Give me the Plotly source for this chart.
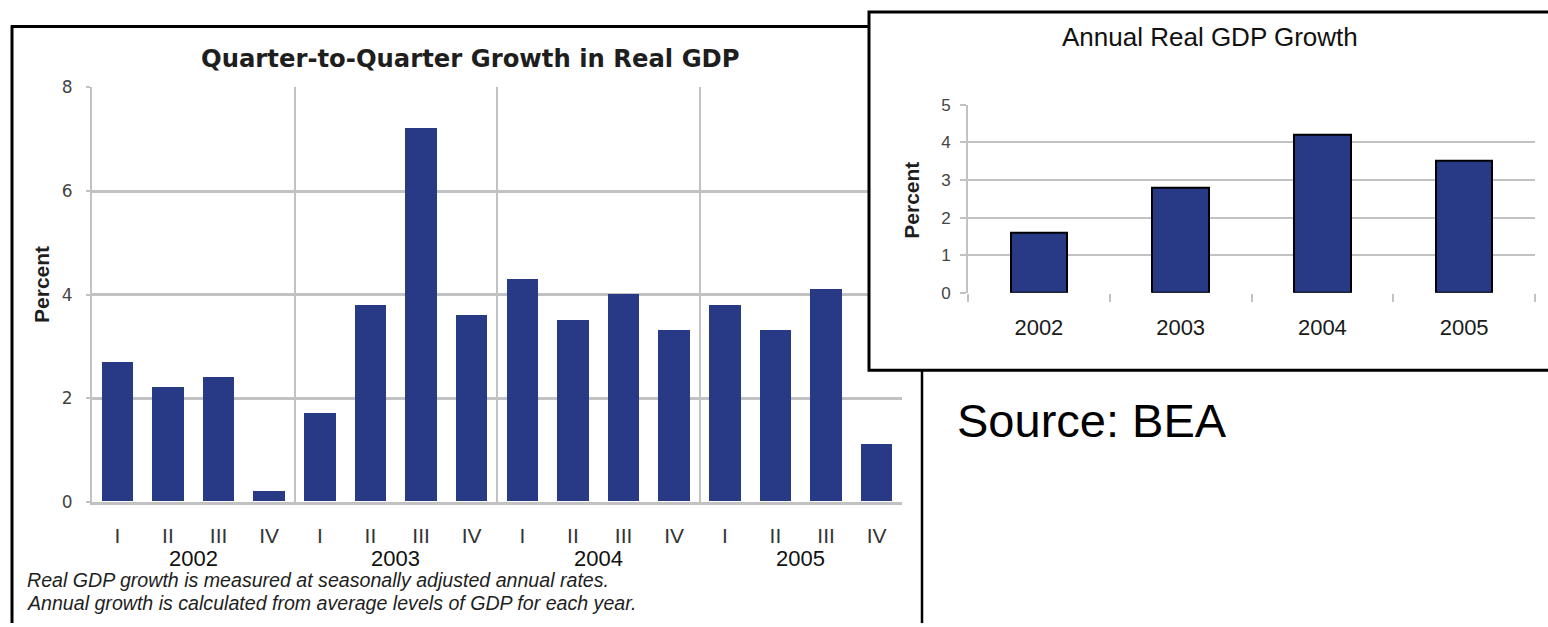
import plotly.graph_objects as go

# ---- data -------------------------------------------------------------
years = ["2002", "2003", "2004", "2005"]
quarters = ["I", "II", "III", "IV"]
quarterly_growth = [2.7, 2.2, 2.4, 0.2,
                    1.7, 3.8, 7.2, 3.6,
                    4.3, 3.5, 4.0, 3.3,
                    3.8, 3.3, 4.1, 1.1]
annual_growth = [1.6, 2.8, 4.2, 3.5]

title_quarterly = "Quarter-to-Quarter Growth in Real GDP"
title_annual = "Annual Real GDP Growth"
axis_label = "Percent"
footnotes = ["Real GDP growth is measured at seasonally adjusted annual rates.",
             "Annual growth is calculated from average levels of GDP for each year."]
source_note = "Source: BEA"

# ---- styling ----------------------------------------------------------
W, H = 1548, 627
BAR = "#283a85"
GRID = "#c2c2c2"
FRAME = "#000000"
ARIAL = "Liberation Sans, Arial, sans-serif"
TAHOMA = "DejaVu Sans, Verdana, sans-serif"


def fx(p):
    """pixel column -> paper fraction"""
    return p / W


def fy(p):
    """pixel row -> paper fraction (paper y grows upward)"""
    return 1 - p / H


# panel boxes in pixels
Q_X, Q_Y = (92, 902), (80, 508)          # quarterly plot area
A_X, A_Y = (968, 1535), (98, 292)        # annual plot area
INSET = (869, 2, 1560, 372)              # inset frame (x0, y0, x1, y1)
Q_TOP = 17                               # top edge of the quarterly frame

q_cats = [f"{y} {q}" for y in years for q in quarters]
q_text = [q for _ in years for q in quarters]
n_q = len(q_cats)

fig = go.Figure()

fig.add_trace(go.Bar(
    x=q_cats, y=quarterly_growth, width=0.62,
    marker=dict(color=BAR, line=dict(width=0)),
    xaxis="x", yaxis="y", hoverinfo="x+y",
))
fig.add_trace(go.Bar(
    x=years, y=annual_growth, width=0.4,
    marker=dict(color=BAR, line=dict(color="#000000", width=2)),
    xaxis="x2", yaxis="y2", hoverinfo="x+y",
))

# year separators sit on quarter boundaries of a linear overlay axis
year_bounds = [len(quarters) * k - 0.5 for k in range(1, len(years))]
year_centers = [len(quarters) * k + (len(quarters) - 1) / 2 for k in range(len(years))]

fig.update_layout(
    width=W, height=H, autosize=False,
    margin=dict(l=0, r=0, t=0, b=0, pad=0),
    paper_bgcolor="white", plot_bgcolor="white",
    showlegend=False, bargap=0,
    xaxis=dict(
        domain=[fx(Q_X[0]), fx(Q_X[1])], anchor="y",
        type="category", range=[-0.5, n_q - 0.5],
        tickvals=q_cats, ticktext=q_text,
        showgrid=False, zeroline=False,
        showline=True, linecolor=GRID, linewidth=3,
        ticks="", ticklabelstandoff=13,
        tickfont=dict(family=ARIAL, size=21, color="#333333"),
    ),
    xaxis3=dict(
        overlaying="x", anchor="y",
        range=[-0.5, n_q - 0.5],
        tickvals=year_bounds,
        showgrid=True, gridcolor=GRID, gridwidth=2,
        showticklabels=False, ticks="", zeroline=False, showline=False,
    ),
    yaxis=dict(
        domain=[fy(Q_Y[1]), fy(Q_Y[0])], anchor="x",
        range=[0, 8], dtick=2,
        showgrid=True, gridcolor=GRID, gridwidth=2.5,
        zeroline=False,
        showline=True, linecolor=GRID, linewidth=2,
        ticks="outside", ticklen=4, tickwidth=2, tickcolor=GRID,
        ticklabelstandoff=10,
        tickfont=dict(family=TAHOMA, size=17, color="#444444"),
    ),
    xaxis2=dict(
        domain=[fx(A_X[0]), fx(A_X[1])], anchor="y2",
        type="category", range=[-0.5, len(years) - 0.5],
        tickson="boundaries", ticks="outside", ticklen=8,
        tickwidth=2, tickcolor=GRID,
        showgrid=False, zeroline=False, showline=False,
        ticklabelstandoff=19,
        tickfont=dict(family=ARIAL, size=22, color="#1a1a1a"),
    ),
    yaxis2=dict(
        domain=[fy(A_Y[1]), fy(A_Y[0])], anchor="x2",
        range=[0, 5], dtick=1,
        showgrid=True, gridcolor=GRID, gridwidth=2,
        zeroline=True, zerolinecolor="white", zerolinewidth=2,
        showline=True, linecolor=GRID, linewidth=2,
        ticks="outside", ticklen=6, tickwidth=2, tickcolor=GRID,
        ticklabelstandoff=6,
        tickfont=dict(family=ARIAL, size=17, color="#444444"),
    ),
)

# white patch hiding the quarterly gridlines behind the inset
q_step = (Q_X[1] - Q_X[0]) / n_q
q_unit = (Q_Y[1] - Q_Y[0]) / 8
cover_x0 = (INSET[0] - Q_X[0]) / q_step - 0.5
cover_y0 = (Q_Y[1] - INSET[3]) / q_unit

shapes = [
    dict(type="rect", xref="x", yref="y", layer="between",
         x0=cover_x0, x1=n_q + 1, y0=cover_y0, y1=10,
         fillcolor="white", line=dict(width=0)),
    # quarterly frame
    dict(type="line", xref="paper", yref="paper", layer="above",
         x0=fx(12), x1=fx(12), y0=-0.01, y1=fy(Q_TOP - 1),
         line=dict(color=FRAME, width=3)),
    dict(type="line", xref="paper", yref="paper", layer="above",
         x0=fx(11), x1=fx(INSET[0]), y0=fy(Q_TOP), y1=fy(Q_TOP),
         line=dict(color=FRAME, width=3)),
    dict(type="line", xref="paper", yref="paper", layer="above",
         x0=fx(922), x1=fx(922), y0=-0.01, y1=fy(INSET[3]),
         line=dict(color=FRAME, width=2.5)),
    # inset frame
    dict(type="rect", xref="paper", yref="paper", layer="above",
         x0=fx(INSET[0]), x1=fx(INSET[2]), y0=fy(INSET[3]), y1=fy(INSET[1]),
         fillcolor="rgba(0,0,0,0)", line=dict(color=FRAME, width=3)),
]


def note(text, x, y, size, family=ARIAL, color="#1e1e1e", **kw):
    d = dict(text=text, xref="paper", yref="paper", x=fx(x), y=fy(y),
             xanchor="center", yanchor="middle", showarrow=False,
             font=dict(family=family, size=size, color=color))
    d.update(kw)
    return d


annotations = [
    note(f"<b>{title_quarterly}</b>", 470, 50, 24.3, family=TAHOMA),
    note(f"<b>{axis_label}</b>", 42, 284, 21, textangle=-90),
    note(title_annual, 1210, 28, 26, color="#111111"),
    note(f"<b>{axis_label}</b>", 912, 197, 21, textangle=-90),
    note(source_note, 955, 424, 47, color="#000000", xanchor="left"),
]
for line, row in zip(footnotes, (589, 613)):
    annotations.append(note(f"<i>{line}</i>", 25, row, 19.6, xanchor="left"))
for yr, xc in zip(years, year_centers):
    annotations.append(dict(
        text=yr, xref="x3", yref="paper", x=xc, y=fy(567),
        xanchor="center", yanchor="middle", showarrow=False, borderpad=0,
        font=dict(family=ARIAL, size=22, color="#111111")))

fig.update_layout(shapes=shapes, annotations=annotations)

# keep the page flush with the window so the figure fills it exactly
page_css = (
    "document.documentElement.style.margin='0';"
    "document.documentElement.style.overflow='hidden';"
    "document.body.style.margin='0';"
    "document.body.style.overflow='hidden';"
)
fig.write_html("out.html", config={"displayModeBar": False}, post_script=page_css)
